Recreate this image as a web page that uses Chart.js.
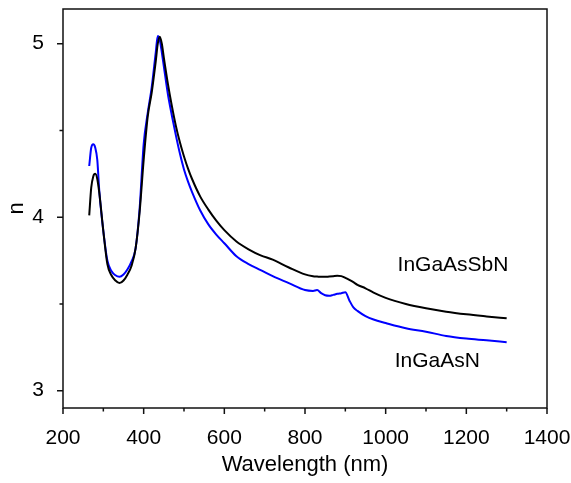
<!DOCTYPE html>
<html>
<head>
<meta charset="utf-8">
<script src="https://cdn.jsdelivr.net/npm/chart.js@4"></script>
<style>
  body { margin: 0; background: #fff; }
  canvas { display: block; }
</style>
</head>
<body>
<canvas id="chartN" width="571" height="483"></canvas>
<script>
// Índice de refração n vs comprimento de onda

const wavelength = [265, 270, 275, 280, 285, 290, 300, 310, 320, 330, 340, 350, 360, 370, 380, 390,
  400, 410, 420, 430, 435, 440, 445, 450, 460, 470, 480, 490, 500, 510, 520, 540, 560, 580, 600,
  630, 660, 690, 720, 760, 800, 820, 830, 840, 850, 860, 870, 880, 890, 900, 910, 920, 930,
  950, 970, 1000, 1050, 1100, 1150, 1200, 1250, 1300];

const nInGaAsSbN = [4.01, 4.17, 4.235, 4.25, 4.22, 4.14, 3.92, 3.73, 3.665, 3.635, 3.62, 3.635, 3.67, 3.72, 3.82, 4.03,
  4.33, 4.58, 4.72, 4.90, 5.00, 5.04, 5.00, 4.92, 4.77, 4.64, 4.525, 4.43, 4.35, 4.28, 4.22, 4.12, 4.045, 3.98, 3.925,
  3.86, 3.815, 3.78, 3.755, 3.71, 3.67, 3.66, 3.658, 3.656, 3.656, 3.658, 3.66, 3.662, 3.66, 3.65, 3.638, 3.625, 3.61,
  3.59, 3.565, 3.535, 3.50, 3.475, 3.455, 3.44, 3.428, 3.417];

const nInGaAsN = [4.295, 4.40, 4.42, 4.40, 4.33, 4.15, 3.92, 3.75, 3.69, 3.665, 3.657, 3.67, 3.70, 3.745, 3.82, 4.05,
  4.42, 4.60, 4.75, 4.95, 5.045, 5.02, 4.95, 4.87, 4.71, 4.585, 4.47, 4.365, 4.275, 4.205, 4.145, 4.04, 3.96, 3.90, 3.85,
  3.775, 3.73, 3.695, 3.66, 3.62, 3.58, 3.575, 3.58, 3.562, 3.55, 3.547, 3.552, 3.558, 3.562, 3.567, 3.52, 3.48, 3.46,
  3.43, 3.41, 3.39, 3.36, 3.34, 3.315, 3.30, 3.29, 3.279];

const xTicks = [200, 300, 400, 500, 600, 700, 800, 900, 1000, 1100, 1200, 1300, 1400];
const yTicks = [3, 3.5, 4, 4.5, 5];

const seriesLabels = ['InGaAsSbN', 'InGaAsN'];
const labelPos = [[1167, 3.725], [1128, 3.167]];

const fonte = 'Liberation Sans, Arial, sans-serif';

function pontos(ys) {
  return wavelength.map((x, i) => ({ x: x, y: ys[i] }));
}

// sem folga extra dos rótulos das extremidades
function semFolga(scale) {
  scale.paddingLeft = 0;
  scale.paddingRight = 0;
  scale.paddingTop = 0;
  scale.paddingBottom = 0;
}

// Moldura, marcas dos eixos e rótulos das curvas
const molduraPlugin = {
  id: 'moldura',
  afterDatasetsDraw(chart) {
    const ctx = chart.ctx;
    const a = chart.chartArea;
    const sx = chart.scales.x;
    const sy = chart.scales.y;
    ctx.save();
    ctx.strokeStyle = '#111';
    ctx.lineWidth = 1.5;
    ctx.strokeRect(a.left, a.top, a.right - a.left, a.bottom - a.top);
    ctx.beginPath();
    xTicks.forEach(v => {
      const px = sx.getPixelForValue(v);
      const len = v % 200 === 0 ? 6 : 3.5;
      ctx.moveTo(px, a.bottom);
      ctx.lineTo(px, a.bottom + len);
    });
    yTicks.forEach(v => {
      const py = sy.getPixelForValue(v);
      const len = Number.isInteger(v) ? 6 : 3.5;
      ctx.moveTo(a.left, py);
      ctx.lineTo(a.left - len, py);
    });
    ctx.stroke();

    ctx.fillStyle = '#000';
    ctx.font = '21px ' + fonte;
    ctx.textAlign = 'center';
    ctx.textBaseline = 'middle';
    seriesLabels.forEach((t, i) => {
      ctx.fillText(t, sx.getPixelForValue(labelPos[i][0]), sy.getPixelForValue(labelPos[i][1]));
    });
    ctx.restore();
  }
};

new Chart(document.getElementById('chartN'), {
  type: 'line',
  data: {
    datasets: [
      {
        label: seriesLabels[0],
        data: pontos(nInGaAsSbN),
        borderColor: '#000000',
        borderWidth: 2,
        pointRadius: 0,
        cubicInterpolationMode: 'monotone'
      },
      {
        label: seriesLabels[1],
        data: pontos(nInGaAsN),
        borderColor: '#0000ff',
        borderWidth: 2,
        pointRadius: 0,
        cubicInterpolationMode: 'monotone'
      }
    ]
  },
  options: {
    responsive: false,
    animation: false,
    devicePixelRatio: 1,
    layout: { padding: { left: 0, top: 9, right: 24, bottom: 0 } },
    plugins: { legend: { display: false }, tooltip: { enabled: false } },
    scales: {
      x: {
        type: 'linear',
        min: 200,
        max: 1400,
        afterFit(scale) { scale.height = 75; semFolga(scale); },
        afterBuildTicks(scale) { scale.ticks = xTicks.map(v => ({ value: v })); },
        grid: { display: false },
        border: { display: false },
        ticks: {
          padding: 10,
          autoSkip: false,
          maxRotation: 0,
          color: '#000',
          font: { family: fonte, size: 21 },
          callback: v => (v % 200 === 0 ? String(v) : '')
        },
        title: {
          display: true,
          text: 'Wavelength (nm)',
          color: '#000',
          font: { family: fonte, size: 22 },
          padding: { top: 0, bottom: 5 }
        }
      },
      y: {
        type: 'linear',
        min: 2.9,
        max: 5.2,
        afterFit(scale) { scale.width = 63; semFolga(scale); },
        afterBuildTicks(scale) { scale.ticks = yTicks.map(v => ({ value: v })); },
        grid: { display: false },
        border: { display: false },
        ticks: {
          padding: 11,
          autoSkip: false,
          color: '#000',
          font: { family: fonte, size: 21 },
          callback: v => (Number.isInteger(v) ? String(v) : '')
        },
        title: {
          display: true,
          text: 'n',
          color: '#000',
          font: { family: fonte, size: 22 },
          padding: { top: 4, bottom: 0 }
        }
      }
    }
  },
  plugins: [molduraPlugin]
});
</script>
</body>
</html>
